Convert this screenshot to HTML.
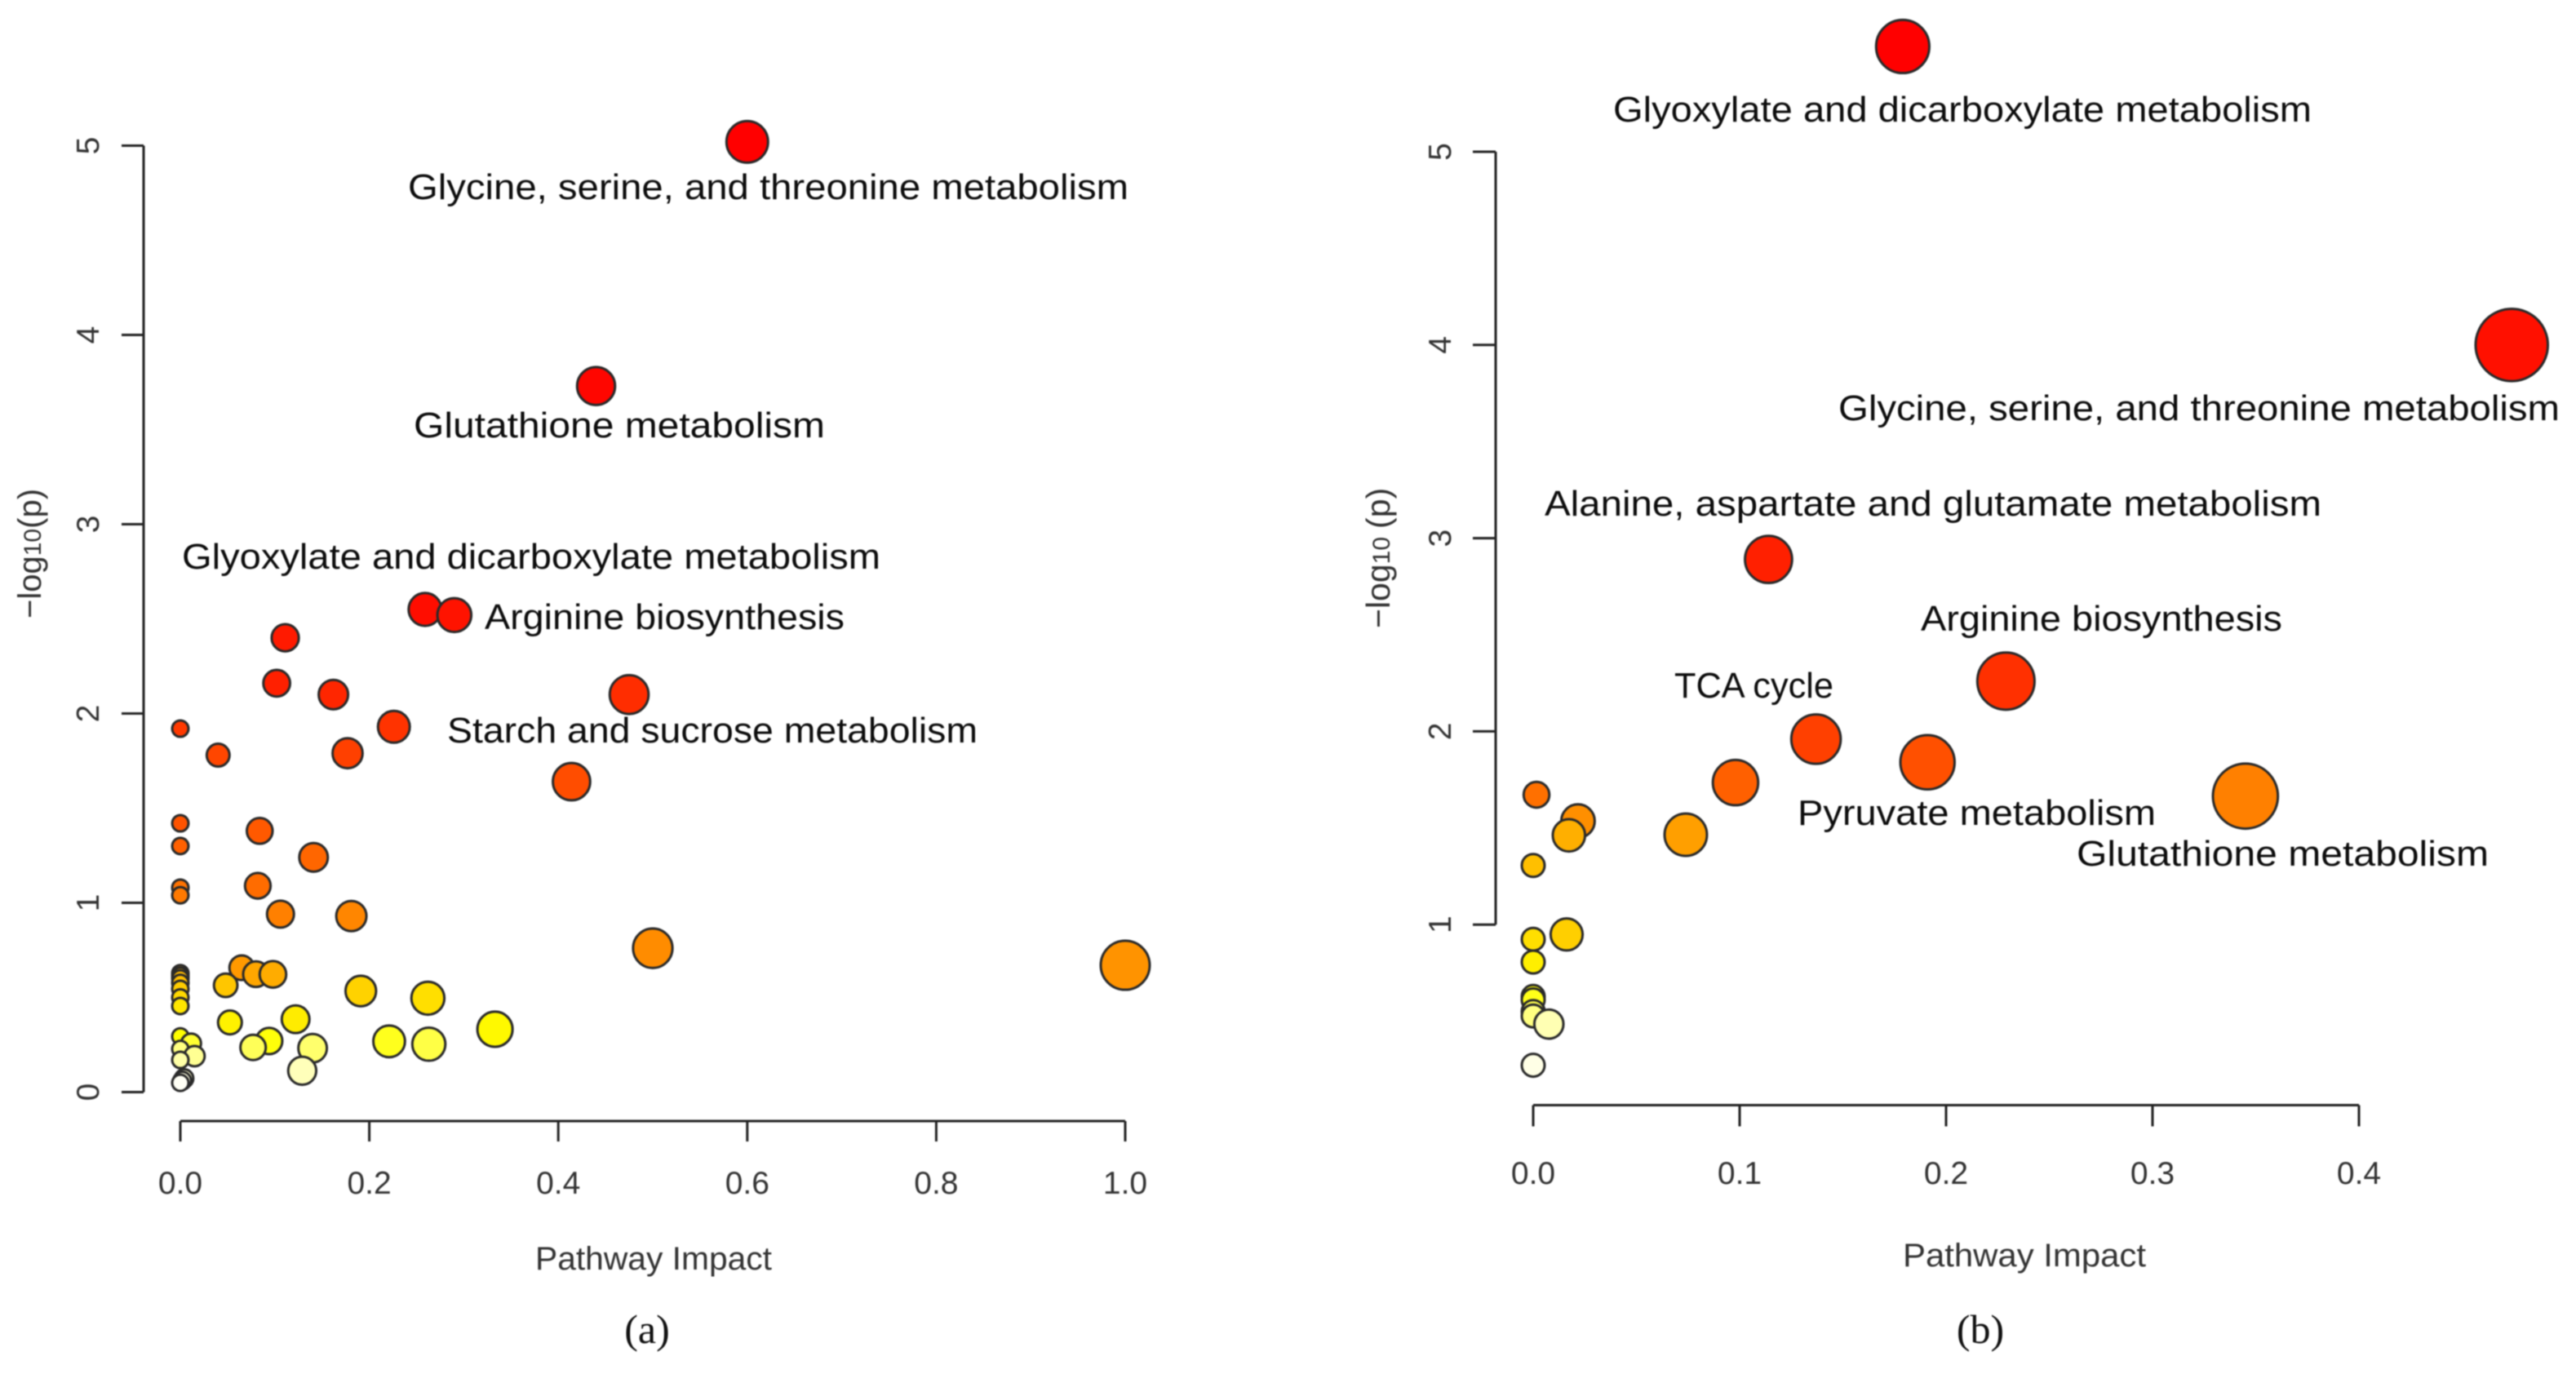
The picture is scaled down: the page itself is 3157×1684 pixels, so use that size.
<!DOCTYPE html>
<html lang="en">
<head>
<meta charset="utf-8">
<title>Pathway impact bubble charts</title>
<style>
html,body{margin:0;padding:0;background:#fff;}
svg{display:block;filter:blur(0.7px);}
.lab{font-family:"Liberation Sans",sans-serif;font-size:44px;fill:#0c0c0c;}
.tick{font-family:"Liberation Sans",sans-serif;font-size:39px;fill:#333;}
.axt{font-family:"Liberation Sans",sans-serif;font-size:40px;fill:#333;}
.cap{font-family:"Liberation Serif",serif;font-size:50px;fill:#111;}
</style>
</head>
<body>
<svg id="figure" xmlns="http://www.w3.org/2000/svg" width="3157" height="1684" viewBox="0 0 3157 1684">
  <rect x="0" y="0" width="3157" height="1684" fill="#fff"/>
  <g id="panel-a"></g>
  <g id="panel-b"></g>

  <g>
    <text class="lab" x="500" y="244" textLength="883" lengthAdjust="spacingAndGlyphs">Glycine, serine, and threonine metabolism</text>
    <text class="lab" x="507" y="536" textLength="504" lengthAdjust="spacingAndGlyphs">Glutathione metabolism</text>
    <text class="lab" x="223" y="697" textLength="856" lengthAdjust="spacingAndGlyphs">Glyoxylate and dicarboxylate metabolism</text>
    <text class="lab" x="594" y="771" textLength="441" lengthAdjust="spacingAndGlyphs">Arginine biosynthesis</text>
    <text class="lab" x="548" y="910" textLength="650" lengthAdjust="spacingAndGlyphs">Starch and sucrose metabolism</text>
  </g>
  <g>
    <text class="lab" x="1977" y="149" textLength="856" lengthAdjust="spacingAndGlyphs">Glyoxylate and dicarboxylate metabolism</text>
    <text class="lab" x="2253" y="515" textLength="884" lengthAdjust="spacingAndGlyphs">Glycine, serine, and threonine metabolism</text>
    <text class="lab" x="1893" y="632" textLength="952" lengthAdjust="spacingAndGlyphs">Alanine, aspartate and glutamate metabolism</text>
    <text class="lab" x="2354" y="773" textLength="443" lengthAdjust="spacingAndGlyphs">Arginine biosynthesis</text>
    <text class="lab" x="2052" y="855" textLength="195" lengthAdjust="spacingAndGlyphs">TCA cycle</text>
    <text class="lab" x="2203" y="1011" textLength="439" lengthAdjust="spacingAndGlyphs">Pyruvate metabolism</text>
    <text class="lab" x="2545" y="1061" textLength="505" lengthAdjust="spacingAndGlyphs">Glutathione metabolism</text>
  </g>

  <text class="axt" x="656" y="1556" textLength="290" lengthAdjust="spacingAndGlyphs">Pathway Impact</text>
  <text class="axt" x="2332" y="1552" textLength="298" lengthAdjust="spacingAndGlyphs">Pathway Impact</text>
  <text class="axt" transform="translate(50,758) rotate(-90)">−log<tspan font-size="30">10</tspan>(p)</text>
  <text class="axt" font-size="41" style="font-size:41px" transform="translate(1703,770) rotate(-90)">−log<tspan font-size="30" style="font-size:30px">10</tspan><tspan dx="10">(p)</tspan></text>
  <text class="cap" x="793" y="1646" text-anchor="middle">(a)</text>
  <text class="cap" x="2427" y="1646" text-anchor="middle">(b)</text>
</svg>

<script>
/* Panel (a) values, drawn in listed order */
const impactA = [0.6,0.44,0.259,0.29,0.111,0.102,0.162,0.226,0.475,0.177,0.414,0.04,0,0,0,0.084,0.141,0,0,0.082,0.106,0.181,0.5,1.0,0.065,0.08,0.098,0.048,0.191,0.262,0,0,0,0,0,0,0,0.333,0.0525,0.122,0,0.094,0.0114,0.221,0.263,0.077,0.14,0,0.015,0,0.129,0.004,0.002,0];
const logPA = [5.02,3.73,2.55,2.52,2.40,2.16,2.10,1.93,2.10,1.79,1.64,1.78,1.92,1.42,1.30,1.38,1.24,1.08,1.04,1.09,0.94,0.93,0.76,0.67,0.657,0.623,0.622,0.564,0.534,0.496,0.628,0.615,0.60,0.577,0.545,0.50,0.455,0.332,0.368,0.385,0.294,0.27,0.257,0.268,0.253,0.236,0.232,0.228,0.19,0.17,0.113,0.072,0.06,0.049];
const xTicksA = [0,0.2,0.4,0.6,0.8,1.0];
const yTicksA = [0,1,2,3,4,5];

/* Panel (b) values, drawn in listed order */
const impactB = [0.179,0.474,0.114,0.229,0.137,0.191,0.098,0.345,0.0016,0.0217,0.0173,0.0739,0,0.0162,0,0,0,0,0,0,0.0076,0];
const logPB = [5.545,4.0,2.89,2.26,1.96,1.84,1.735,1.665,1.672,1.536,1.462,1.465,1.306,0.949,0.924,0.806,0.628,0.61,0.55,0.527,0.485,0.272];
const xTicksB = [0,0.1,0.2,0.3,0.4];
const yTicksB = [1,2,3,4,5];

const NS = 'http://www.w3.org/2000/svg';

/* R heat.colors ramp, assigned by rank of significance */
function heatColors(n){
  const j = Math.floor(n/4), i = n-j, out = [];
  for(let k=0;k<i;k++){
    const g = Math.round(255*(i>1 ? k/(i-1) : 0));
    out.push('rgb(255,'+g+',0)');
  }
  for(let k=0;k<j;k++){
    const s0 = 1-1/(2*j), s1 = 1/(2*j);
    const s = j>1 ? s0+(s1-s0)*k/(j-1) : s0;
    const b = Math.round(255*(1-s));
    out.push('rgb(255,255,'+b+')');
  }
  return out;
}

function drawPanel(p){
  const root = document.getElementById(p.id);
  const sx = v => p.x0 + v*p.xUnit;
  const sy = v => p.y0 - v*p.yUnit;

  const xAxis = document.createElementNS(NS,'line');
  
  
  xAxis.setAttribute('x1', sx(p.xTicks[0]));
  xAxis.setAttribute('x2', sx(p.xTicks[p.xTicks.length-1]));
  xAxis.setAttribute('y1', p.xAxisY);
  xAxis.setAttribute('y2', p.xAxisY);
  xAxis.setAttribute('stroke', '#222');
  xAxis.setAttribute('stroke-width', '3');
  root.appendChild(xAxis);

  p.xTicks.forEach(t=>{
    const m = document.createElementNS(NS,'line');
    
    
    m.setAttribute('x1', sx(t));
    m.setAttribute('x2', sx(t));
    m.setAttribute('y1', p.xAxisY);
    m.setAttribute('y2', p.xAxisY+p.tickLen);
    m.setAttribute('stroke', '#222');
    m.setAttribute('stroke-width', '3');
    root.appendChild(m);
    const l = document.createElementNS(NS,'text');
    
    
    l.setAttribute('class', 'tick');
    l.setAttribute('x', sx(t));
    l.setAttribute('y', p.xLabelY);
    l.setAttribute('text-anchor', 'middle');
    l.textContent = t.toFixed(1);
    root.appendChild(l);
  });

  const yAxis = document.createElementNS(NS,'line');
  
  
  yAxis.setAttribute('x1', p.yAxisX);
  yAxis.setAttribute('x2', p.yAxisX);
  yAxis.setAttribute('y1', sy(p.yTicks[0]));
  yAxis.setAttribute('y2', sy(p.yTicks[p.yTicks.length-1]));
  yAxis.setAttribute('stroke', '#222');
  yAxis.setAttribute('stroke-width', '3');
  root.appendChild(yAxis);

  p.yTicks.forEach(t=>{
    const m = document.createElementNS(NS,'line');
    
    
    m.setAttribute('x1', p.yAxisX-p.yTickLen);
    m.setAttribute('x2', p.yAxisX);
    m.setAttribute('y1', sy(t));
    m.setAttribute('y2', sy(t));
    m.setAttribute('stroke', '#222');
    m.setAttribute('stroke-width', '3');
    root.appendChild(m);
    const l = document.createElementNS(NS,'text');
    
    
    l.setAttribute('class', 'tick');
    l.setAttribute('text-anchor', 'middle');
    l.setAttribute('transform', 'translate('+p.yLabelX+','+sy(t)+') rotate(-90)');
    l.textContent = String(t);
    root.appendChild(l);
  });

  const ramp = heatColors(p.logP.length);
  const order = p.logP.map((v,i)=>i).sort((a,b)=>p.logP[b]-p.logP[a]);
  const rank = [];
  order.forEach((idx,r)=>{ rank[idx]=r; });

  p.impact.forEach((v,i)=>{
    const c = document.createElementNS(NS,'circle');
    
    
    c.setAttribute('cx', sx(v));
    c.setAttribute('cy', sy(p.logP[i]));
    c.setAttribute('r', p.rBase + p.rScale*Math.sqrt(v));
    c.setAttribute('fill', ramp[rank[i]]);
    c.setAttribute('stroke', '#2a2a2a');
    c.setAttribute('stroke-width', '3');
    root.appendChild(c);
  });
}

drawPanel({id:'panel-a',impact:impactA,logP:logPA,xTicks:xTicksA,yTicks:yTicksA,
  x0:221,xUnit:1158,y0:1338.5,yUnit:232,xAxisY:1374,yAxisX:176,tickLen:25,yTickLen:27,
  xLabelY:1463,yLabelX:121,rBase:10,rScale:20});
drawPanel({id:'panel-b',impact:impactB,logP:logPB,xTicks:xTicksB,yTicks:yTicksB,
  x0:1879,xUnit:2530,y0:1370,yUnit:236.8,xAxisY:1354.5,yAxisX:1833,tickLen:26,yTickLen:28,
  xLabelY:1451,yLabelX:1778,rBase:14,rScale:44});
</script>
</body>
</html>
